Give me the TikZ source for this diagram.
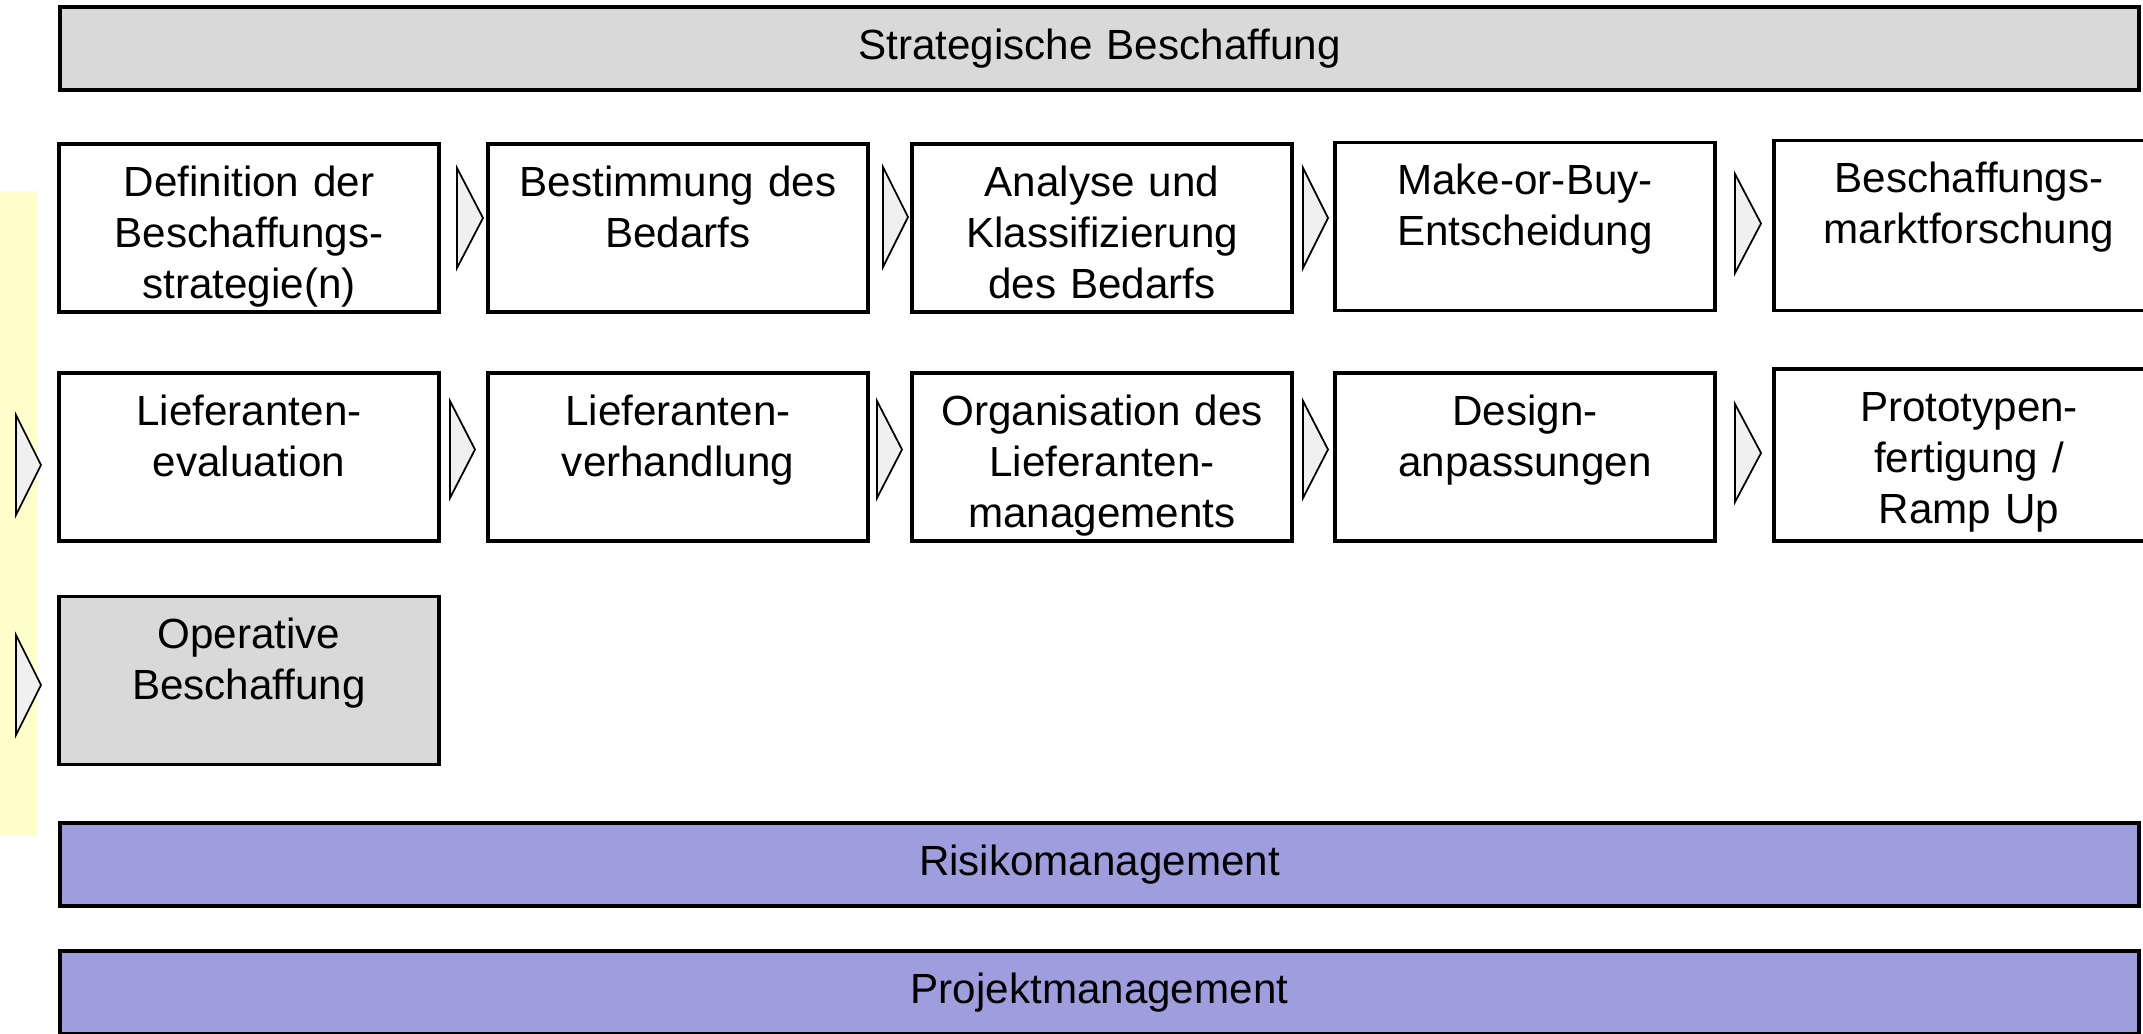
\documentclass[tikz,border=0pt]{standalone}
\usepackage{fontspec}
\setmainfont{Liberation Sans}
\definecolor{grau}{RGB}{217,217,217}
\definecolor{lila}{RGB}{158,158,222}
\definecolor{gelb}{RGB}{255,255,204}
\definecolor{pfeilgrau}{RGB}{240,240,240}
\tikzset{
  kasten/.style={draw, line width=1pt, minimum width=3.80cm, minimum height=1.68cm, inner sep=0pt},
  balken/.style={draw, line width=1pt, minimum width=20.79cm, minimum height=0.83cm, inner sep=0pt},
  txt/.style={anchor=north, align=center, text width=3.8cm, inner sep=0pt, font=\fontsize{12}{14.5}\selectfont, execute at begin node=\strut},
  pfeil/.style={draw, fill=pfeilgrau, line width=0.5pt, line join=miter}
}
\begin{document}
\begin{tikzpicture}
    \useasboundingbox (0,0) rectangle (21.43,-10.33);
    \clip (0,0) rectangle (21.43,-10.33);

    % Hintergrund
    \fill[gelb] (0,-1.91) rectangle (0.37,-8.36);

    % Kaesten
    \node[balken, fill=grau] (strat) at (10.995,-0.485) {};
    \node[kasten] (a1) at (2.49,-2.28) {};
    \node[kasten] (a2) at (6.78,-2.28) {};
    \node[kasten] (a3) at (11.02,-2.28) {};
    \node[kasten] (a4) at (15.25,-2.265) {};
    \node[kasten, minimum width=3.9cm, minimum height=1.70cm] (a5) at (19.69,-2.255) {};
    \node[kasten] (b1) at (2.49,-4.57) {};
    \node[kasten] (b2) at (6.78,-4.57) {};
    \node[kasten] (b3) at (11.02,-4.57) {};
    \node[kasten] (b4) at (15.25,-4.57) {};
    \node[kasten, minimum width=3.9cm, minimum height=1.72cm] (b5) at (19.69,-4.55) {};
    \node[kasten, fill=grau] (op) at (2.49,-6.805) {};
    \node[balken, fill=lila] (risk) at (10.995,-8.645) {};
    \node[balken, fill=lila] (proj) at (10.995,-9.925) {};

    % Pfeile
    \draw[pfeil] (4.57,-1.68) -- (4.83,-2.18) -- (4.57,-2.68) -- cycle;
    \draw[pfeil] (8.83,-1.67) -- (9.08,-2.17) -- (8.83,-2.67) -- cycle;
    \draw[pfeil] (13.03,-1.68) -- (13.28,-2.18) -- (13.03,-2.68) -- cycle;
    \draw[pfeil] (17.35,-1.74) -- (17.61,-2.235) -- (17.35,-2.73) -- cycle;
    \draw[pfeil] (4.50,-4.01) -- (4.75,-4.495) -- (4.50,-4.98) -- cycle;
    \draw[pfeil] (8.77,-4.01) -- (9.02,-4.495) -- (8.77,-4.98) -- cycle;
    \draw[pfeil] (13.03,-4.01) -- (13.28,-4.495) -- (13.03,-4.98) -- cycle;
    \draw[pfeil] (17.35,-4.04) -- (17.61,-4.53) -- (17.35,-5.02) -- cycle;
    \draw[pfeil] (0.16,-4.15) -- (0.41,-4.65) -- (0.16,-5.15) -- cycle;
    \draw[pfeil] (0.16,-6.35) -- (0.41,-6.85) -- (0.16,-7.35) -- cycle;

    % Texte
    \node[txt, text width=20cm] (tstrat) at ([yshift=-5pt]strat.north) {Strategische Beschaffung};
    \node[txt] (ta1) at ([yshift=-5pt]a1.north) {Definition der\\Beschaffungs-\\strategie(n)};
    \node[txt] (ta2) at ([yshift=-5pt]a2.north) {Bestimmung des\\Bedarfs};
    \node[txt] (ta3) at ([yshift=-5pt]a3.north) {Analyse und\\Klassifizierung\\des Bedarfs};
    \node[txt] (ta4) at ([yshift=-5pt]a4.north) {Make-or-Buy-\\Entscheidung};
    \node[txt] (ta5) at ([yshift=-5pt]a5.north) {Beschaffungs-\\marktforschung};
    \node[txt] (tb1) at ([yshift=-5pt]b1.north) {Lieferanten-\\evaluation};
    \node[txt] (tb2) at ([yshift=-5pt]b2.north) {Lieferanten-\\verhandlung};
    \node[txt] (tb3) at ([yshift=-5pt]b3.north) {Organisation des\\Lieferanten-\\managements};
    \node[txt] (tb4) at ([yshift=-5pt]b4.north) {Design-\\anpassungen};
    \node[txt] (tb5) at ([yshift=-5pt]b5.north) {Prototypen-\\fertigung /\\Ramp Up};
    \node[txt] (top) at ([yshift=-5pt]op.north) {Operative\\Beschaffung};
    \node[txt, text width=20cm] (trisk) at ([yshift=-5pt]risk.north) {Risikomanagement};
    \node[txt, text width=20cm] (tproj) at ([yshift=-5pt]proj.north) {Projektmanagement};

\end{tikzpicture}
\end{document}
